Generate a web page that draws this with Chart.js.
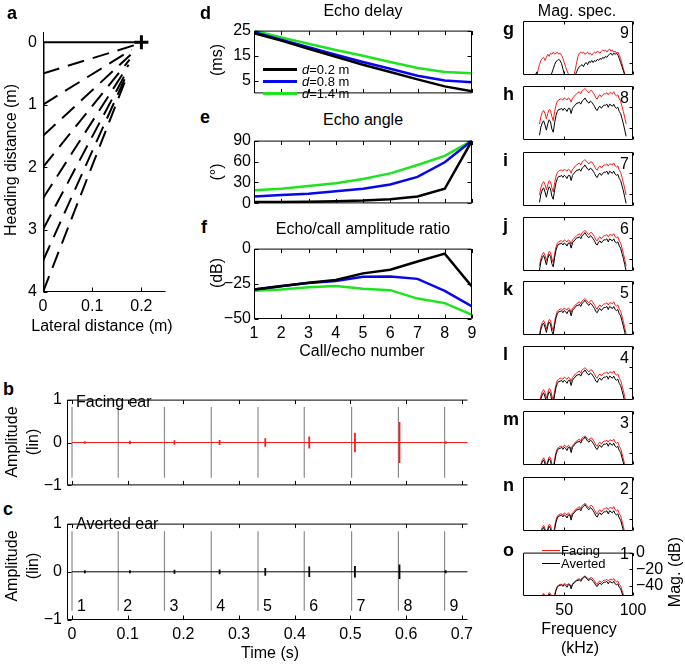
<!DOCTYPE html>
<html>
<head>
<meta charset="utf-8">
<script src="https://cdn.jsdelivr.net/npm/chart.js@4.4.1/dist/chart.umd.min.js"></script>
<style>
  body { margin: 0; width: 685px; height: 664px; position: relative; overflow: hidden; background: #fff;
         font-family: "Liberation Sans", Arial, sans-serif; color: #000; }
  canvas { position: absolute; }
  .txt { position: absolute; white-space: nowrap; line-height: 1; }
  .bar { position: absolute; }
</style>
</head>
<body>
<script>
// ---- panel a: geometry of echo paths (m)
const WALL_Y = [0.5, 1, 1.5, 2, 2.5, 3, 3.5, 4];
const PATH_END_X = [0.185, 0.18, 0.178, 0.176, 0.174, 0.172, 0.17, 0.168];
const PATH_END_Y = [0.05, 0.12, 0.2, 0.28, 0.36, 0.44, 0.52, 0.6];
const BAT_X = 0.2;
const A_X_TICKS = [0, 0.1, 0.2];
const A_Y_TICKS = [0, 1, 2, 3, 4];

// ---- panels d-f: per call/echo number
const CALL_NO = [1, 2, 3, 4, 5, 6, 7, 8, 9];
const SERIES_LABELS = ['0.2 m', '0.8 m', '1.4 m'];
const DELAY_02 = [24, 21, 17.8, 14.6, 11.4, 8.5, 5.6, 2.8, 0.8];
const DELAY_08 = [24.4, 21.4, 18.4, 15.4, 12.5, 9.8, 7, 5.1, 4.4];
const DELAY_14 = [25, 22.3, 19.8, 17.3, 15, 12.5, 10.1, 8.5, 8];
const ANGLE_02 = [2, 2, 2.5, 3, 4, 6, 10, 21, 90];
const ANGLE_08 = [10, 12, 14, 17.5, 21, 27, 38, 59, 90];
const ANGLE_14 = [19, 21, 25, 29, 35, 43, 55, 68, 90];
const RATIO_02 = [-29, -26.7, -24.2, -22.3, -17.6, -15, -9.2, -3.6, -27];
const RATIO_08 = [-29, -26.5, -24.5, -23, -20, -19.8, -21.5, -30, -41];
const RATIO_14 = [-30, -29, -27.5, -26.5, -28.5, -29.5, -35.5, -38.7, -47];
const DELAY_TICKS = [5, 15, 25];
const ANGLE_TICKS = [0, 30, 60, 90];
const RATIO_TICKS = [-50, -25, 0];

// ---- panels b-c: time series (s, linear amplitude)
const CALL_T = [0, 0.083, 0.166, 0.25, 0.334, 0.417, 0.502, 0.586, 0.669];
const ECHO_T = [0.023, 0.104, 0.184, 0.265, 0.347, 0.426, 0.508, 0.588, 0.671];
const CALL_AMP_FACING = [0.83, -0.82];
const CALL_AMP_AVERTED = [0.84, -0.81];
const ECHO_AMP_FACING = [0.03, 0.04, 0.05, 0.06, 0.1, 0.14, 0.23, 0.48, 0.03];
const ECHO_AMP_AVERTED = [0.03, 0.03, 0.04, 0.05, 0.08, 0.11, 0.12, 0.15, 0.03];
const REC_T = [0, 0.71];
const TIME_TICKS = [0, 0.1, 0.2, 0.3, 0.4, 0.5, 0.6, 0.7];
const AMP_TICKS = [-1, 0, 1];

// ---- panels g-o: magnitude spectra (kHz, dB)
const SPEC_FREQ = [32, 33, 34, 35, 36, 37, 38, 39, 40, 41, 42, 43, 44, 45, 46, 47, 48, 49, 50, 51,
  52, 53, 54, 55, 56, 57, 58, 59, 60, 61, 62, 63, 64, 65, 66, 67, 68, 69, 70, 71,
  72, 73, 74, 75, 76, 77, 78, 79, 80, 81, 82, 83, 84, 85, 86, 87, 88, 89, 90, 91, 92, 93, 94, 95];
// spectrum shapes relative to each panel's peak level
const FACING_SHAPE = [-34, -27, -23, -21, -24, -29, -24, -20, -21, -27,
  -31, -22, -16, -12, -11, -10, -10, -11, -9, -10,
  -11, -9, -10, -13, -9, -8, -6, -5, -4, -3,
  -5, -2, -1, 0, -1, -3, -4, -2, -2, -4,
  -6, -9, -10, -7, -6, -8, -6, -5, -5, -4,
  -6, -4, -4, -5, -3, -6, -7, -6, -10, -12,
  -17, -22, -28, -34];
const AVERTED_SHAPE = [-36, -28, -24, -22, -26, -31, -25, -21, -23, -30,
  -33, -24, -17, -13, -11, -11, -10, -12, -10, -11,
  -13, -10, -10, -15, -10, -8, -7, -5, -5, -4,
  -6, -3, -2, 0, -2, -4, -5, -3, -4, -6,
  -8, -11, -12, -9, -8, -10, -8, -7, -7, -6,
  -9, -6, -7, -8, -6, -9, -10, -9, -13, -15,
  -20, -25, -31, -37];
// peak level (dB) for calls 1..8
const FACING_PEAK = [-28, -25.5, -24, -21, -17, -13, -7.5, -2.5];
const AVERTED_PEAK = [-28.5, -26.5, -25, -23, -18.5, -15, -12.5, -11.5];
// call 9 has its own shape
const G_FREQ = [29, 30, 31, 32, 33, 34, 35, 36, 37, 38, 39, 40, 41, 42, 43, 44, 45, 46, 47, 48,
  49, 50, 51, 52, 53, 54, 55, 56, 57, 58, 59, 60, 61, 62, 63, 64, 65, 66, 67, 68,
  69, 70, 71, 72, 73, 74, 75, 76, 77, 78, 79, 80, 81, 82, 83, 84, 85, 86, 87, 88,
  89, 90, 91, 92, 93, 94, 95];
const G_FACING = [-55, -52, -47, -42, -38, -36, -35, -38, -35, -32,
  -34, -31, -32, -30, -32, -31, -30, -32, -31, -33,
  -36, -40, -44, -48, -51, -53, -55, -54, -52, -47,
  -40, -34, -31, -30, -31, -30, -32, -31, -30, -32,
  -31, -33, -31, -30, -31, -29, -30, -31, -29, -28,
  -29, -28, -30, -28, -27, -29, -28, -30, -29, -31,
  -30, -33, -36, -41, -46, -51, -55];
const G_AVERTED = [-52, -49, -53, -55, -55, -55, -55, -55, -55, -55,
  -55, -53, -50, -46, -42, -39, -38, -37, -38, -41,
  -46, -51, -55, -55, -55, -55, -55, -55, -54, -52,
  -49, -46, -44, -43, -42, -44, -41, -40, -42, -39,
  -40, -38, -40, -38, -39, -37, -38, -36, -37, -35,
  -36, -34, -35, -33, -32, -31, -33, -31, -32, -31,
  -33, -36, -40, -44, -48, -52, -55];
const SPEC_X_TICKS = [50, 100];
const SPEC_Y_TICKS = [0, -20, -40];

const BLUE = '#0707ee';
const GREEN = '#1ee41e';
const RED = '#ff1a1a';
const GREY = '#8c8c8c';

Chart.defaults.font.family = '"Liberation Sans", Arial, sans-serif';
Chart.defaults.font.size = 16;
Chart.defaults.color = '#000';
Chart.defaults.animation = false;

// box and inward ticks, drawn from the chart's own scales
Chart.register({
  id: 'frame',
  afterDatasetsDraw(chart, args, o) {
    if (!o.sides) return;
    const { ctx, chartArea: a } = chart;
    const xs = chart.scales.x, ys = chart.scales.y;
    const len = o.len || 4;
    ctx.save();
    ctx.strokeStyle = '#000';
    ctx.lineWidth = 1;
    ctx.beginPath();
    const L = a.left + 0.5, R = a.right - 0.5, T = a.top + 0.5, B = a.bottom - 0.5;
    if (o.sides.includes('t')) { ctx.moveTo(L, T); ctx.lineTo(R, T); }
    if (o.sides.includes('b')) { ctx.moveTo(L, B); ctx.lineTo(R, B); }
    if (o.sides.includes('l')) { ctx.moveTo(L, T); ctx.lineTo(L, B); }
    if (o.sides.includes('r')) { ctx.moveTo(R, T); ctx.lineTo(R, B); }
    xs.ticks.forEach(t => {
      const p = Math.round(xs.getPixelForValue(t.value)) + 0.5;
      if ((o.xt || '').includes('b')) { ctx.moveTo(p, B); ctx.lineTo(p, B - len); }
      if ((o.xt || '').includes('t')) { ctx.moveTo(p, T); ctx.lineTo(p, T + len); }
    });
    ys.ticks.forEach(t => {
      const p = Math.round(ys.getPixelForValue(t.value)) + 0.5;
      if ((o.yt || '').includes('l')) { ctx.moveTo(L, p); ctx.lineTo(L + len, p); }
      if ((o.yt || '').includes('r')) { ctx.moveTo(R, p); ctx.lineTo(R - len, p); }
    });
    ctx.stroke();
    ctx.restore();
  }
});

const fmt = v => String(v).replace('-', '\u2212');

function axis(min, max, ticks, o) {
  return {
    type: 'linear', min, max, reverse: !!o.reverse, position: o.position,
    grid: { display: false, drawTicks: false }, border: { display: false },
    ticks: { display: !!o.labels, padding: o.pad ?? 4, autoSkip: false, maxRotation: 0,
             font: { size: o.size || 16 }, callback: v => fmt(v) },
    afterBuildTicks: s => { s.ticks = ticks.map(v => ({ value: v })); }
  };
}

// box = plot area on the page, m = room around it for tick labels
function panel(box, m, cfg) {
  const cv = document.createElement('canvas');
  cv.width = box.r - box.l + m.l + m.r;
  cv.height = box.b - box.t + m.t + m.b;
  cv.style.left = (box.l - m.l) + 'px';
  cv.style.top = (box.t - m.t) + 'px';
  document.body.appendChild(cv);
  const right = cfg.y.position === 'right';
  cfg.y.afterFit = s => { s.width = right ? m.r : m.l; };
  cfg.x.afterFit = s => { s.height = m.b; };
  return new Chart(cv, {
    type: 'scatter',
    data: { datasets: cfg.datasets },
    options: {
      responsive: false,
      layout: { padding: { left: right ? m.l : 0, right: right ? 0 : m.r, top: m.t, bottom: 0 } },
      scales: { x: cfg.x, y: cfg.y },
      plugins: { legend: { display: false }, tooltip: { enabled: false }, frame: cfg.frame }
    },
    plugins: cfg.plugins || []
  });
}

const pts = (xs, ys) => xs.map((x, i) => ({ x, y: ys[i] }));
const line = (data, color, width, extra) =>
  Object.assign({ data, showLine: true, borderColor: color, backgroundColor: color,
                  borderWidth: width, pointRadius: 0 }, extra || {});

function txt(s, x, y, o = {}) {
  const d = document.createElement('div');
  d.className = 'txt';
  d.innerHTML = s;
  d.style.left = x + 'px';
  d.style.top = y + 'px';
  d.style.fontSize = (o.size || 16) + 'px';
  if (o.bold) d.style.fontWeight = 'bold';
  const ax = o.align === 'l' ? '0' : o.align === 'r' ? '-100%' : '-50%';
  d.style.transform = 'translate(' + ax + ', -50%)' + (o.rot ? ' rotate(-90deg)' : '');
  document.body.appendChild(d);
}
function bar(x, y, w, h, color) {
  const d = document.createElement('div');
  d.className = 'bar';
  Object.assign(d.style, { left: x + 'px', top: y + 'px', width: w + 'px', height: h + 'px', background: color });
  document.body.appendChild(d);
}

// ---------- panel a
const aSets = [
  line([{ x: 0, y: 0 }, { x: 0, y: 4 }], '#000', 3),
  line([{ x: 0, y: 0 }, { x: BAT_X, y: 0 }], '#000', 2),
];
WALL_Y.forEach((w, i) => {
  aSets.push(line([{ x: 0, y: w }, { x: PATH_END_X[i], y: PATH_END_Y[i] }], '#000', 2, { borderDash: [17, 9] }));
});
aSets.push({ data: [{ x: BAT_X, y: 0 }], showLine: false, pointStyle: 'cross', pointRadius: 7,
             borderWidth: 3, borderColor: '#000' });
panel({ l: 43, r: 168, t: 22, b: 292 }, { l: 43, r: 8, t: 6, b: 28 }, {
  datasets: aSets,
  x: axis(0, 0.25, A_X_TICKS, { labels: true, pad: 5 }),
  y: axis(-0.17, 4, A_Y_TICKS, { labels: true, reverse: true, pad: 6 }),
  frame: { sides: 'lb', xt: 'b', yt: 'l', len: 4 }
});

// ---------- panels d, e, f
const dfBox = { l: 254, r: 472 };
const dfSets = (a, b, c) => [
  line(pts(CALL_NO, a), '#000', 2.5),
  line(pts(CALL_NO, b), BLUE, 2.5),
  line(pts(CALL_NO, c), GREEN, 2.5),
];
panel({ ...dfBox, t: 22, b: 102 }, { l: 45, r: 6, t: 4, b: 4 }, {
  datasets: dfSets(DELAY_02, DELAY_08, DELAY_14),
  x: axis(1, 9, CALL_NO, { labels: false }),
  y: axis(0, 25, DELAY_TICKS, { labels: true, pad: 3 }),
  frame: { sides: 'tlbr', xt: 'tb', yt: 'lr' }
});
panel({ ...dfBox, t: 132, b: 212 }, { l: 45, r: 6, t: 4, b: 4 }, {
  datasets: dfSets(ANGLE_02, ANGLE_08, ANGLE_14),
  x: axis(1, 9, CALL_NO, { labels: false }),
  y: axis(0, 90, ANGLE_TICKS, { labels: true, pad: 3 }),
  frame: { sides: 'tlbr', xt: 'tb', yt: 'lr' }
});
panel({ ...dfBox, t: 240, b: 319 }, { l: 45, r: 10, t: 4, b: 26 }, {
  datasets: dfSets(RATIO_02, RATIO_08, RATIO_14),
  x: axis(1, 9, CALL_NO, { labels: true, pad: 5 }),
  y: axis(-50, 0, RATIO_TICKS, { labels: true, pad: 3 }),
  frame: { sides: 'tlbr', xt: 'tb', yt: 'lr' }
});

// ---------- panels b, c
const callNumbers = {
  id: 'callNumbers',
  afterDatasetsDraw(chart) {
    const { ctx } = chart;
    ctx.save();
    ctx.font = '16px "Liberation Sans", Arial, sans-serif';
    ctx.fillStyle = '#000';
    ctx.textBaseline = 'middle';
    CALL_T.forEach((t, i) => {
      ctx.fillText(String(CALL_NO[i]), chart.scales.x.getPixelForValue(t) + 5, chart.scales.y.getPixelForValue(-0.73));
    });
    ctx.restore();
  }
};
function callSpikes(amp) {
  const out = [];
  CALL_T.forEach(t => out.push({ x: t, y: amp[0] }, { x: t, y: amp[1] }, { x: t, y: null }));
  return out;
}
function echoSpikes(amp) {
  const out = [];
  ECHO_T.forEach((t, i) => out.push({ x: t, y: amp[i] }, { x: t, y: -amp[i] }, { x: t, y: null }));
  return out;
}
const tBox = { l: 67, r: 468 };
panel({ ...tBox, t: 389, b: 496 }, { l: 40, r: 10, t: 4, b: 4 }, {
  datasets: [
    line(echoSpikes(ECHO_AMP_FACING), RED, 1.8),
    line(pts(REC_T, [0, 0]), RED, 1),
    line(callSpikes(CALL_AMP_FACING), GREY, 1.2),
  ],
  x: axis(-0.009, 0.711, TIME_TICKS, { labels: false }),
  y: axis(-1, 1, AMP_TICKS, { labels: true, pad: 5 }),
  frame: { sides: 'tlb', xt: 'tb', yt: 'l' }
});
panel({ ...tBox, t: 513, b: 620 }, { l: 40, r: 14, t: 4, b: 26 }, {
  datasets: [
    line(echoSpikes(ECHO_AMP_AVERTED), '#000', 1.8),
    line(pts(REC_T, [0, 0]), '#000', 1),
    line(callSpikes(CALL_AMP_AVERTED), GREY, 1.2),
  ],
  x: axis(-0.009, 0.711, TIME_TICKS, { labels: true, pad: 5 }),
  y: axis(-1, 1, AMP_TICKS, { labels: true, pad: 5 }),
  frame: { sides: 'tlb', xt: 'tb', yt: 'l' },
  plugins: [callNumbers]
});

// ---------- panels g-o (call 9 at top, call 1 at bottom)
const SPEC_TOPS = [21, 86, 152, 217, 281, 346, 411, 477, 542];
const SPEC_LETTERS = ['g', 'h', 'i', 'j', 'k', 'l', 'm', 'n', 'o'];
SPEC_TOPS.forEach((top, k) => {
  const n = 9 - k;
  let facing, averted;
  if (n === 9) {
    facing = pts(G_FREQ, G_FACING);
    averted = pts(G_FREQ, G_AVERTED);
  } else {
    facing = SPEC_FREQ.map((f, j) => ({ x: f, y: FACING_SHAPE[j] + FACING_PEAK[n - 1] }));
    averted = SPEC_FREQ.map((f, j) => ({ x: f, y: AVERTED_SHAPE[j] + AVERTED_PEAK[n - 1] }));
  }
  const last = n === 1;
  panel({ l: 523, r: 633, t: top, b: top + 54 }, { l: 14, r: last ? 44 : 4, t: 2, b: last ? 26 : 2 }, {
    datasets: [line(averted, '#000', 1), line(facing, RED, 1)],
    x: axis(20, 100, SPEC_X_TICKS, { labels: last, pad: 5 }),
    y: axis(-52, 0, SPEC_Y_TICKS, { labels: last, position: 'right', pad: 3 }),
    frame: { sides: 'tlbr', xt: 'tb', yt: 'r', len: 3 }
  });
  txt(String(n), 629, top + 12, { align: 'r' });
  txt(SPEC_LETTERS[k], 503, top + 8, { align: 'l', bold: true, size: 18 });
});

// ---------- text
txt('a', 7, 13, { align: 'l', bold: true, size: 18 });
txt('d', 200, 13, { align: 'l', bold: true, size: 18 });
txt('e', 200, 117, { align: 'l', bold: true, size: 18 });
txt('f', 201, 227, { align: 'l', bold: true, size: 18 });
txt('b', 3, 389, { align: 'l', bold: true, size: 18 });
txt('c', 3, 509, { align: 'l', bold: true, size: 18 });

txt('Heading distance (m)', 11, 160, { rot: true });
txt('Lateral distance (m)', 102, 326);

txt('Echo delay', 363, 11);
txt('Echo angle', 363, 120);
txt('Echo/call amplitude ratio', 363, 229);
txt('Call/echo number', 362, 351);
txt('(ms)', 217, 60, { rot: true });
txt('(\u00b0)', 217, 172, { rot: true });
txt('(dB)', 217, 273, { rot: true });

[['#000', 69], [BLUE, 81], [GREEN, 93]].forEach(([c, y], i) => {
  bar(263, y - 1.5, 34, 3, c);
  txt('<i>d</i>=' + SERIES_LABELS[i], 302, y, { align: 'l', size: 13 });
});

txt('Amplitude', 12, 442, { rot: true });
txt('(lin)', 33, 442, { rot: true });
txt('Amplitude', 12, 566, { rot: true });
txt('(lin)', 33, 566, { rot: true });
txt('Facing ear', 76, 402, { align: 'l' });
txt('Averted ear', 76, 524, { align: 'l' });
txt('Time (s)', 270, 653);

txt('Mag. spec.', 577, 11);
txt('Frequency', 579, 629);
txt('(kHz)', 580, 648);
txt('Mag. (dB)', 675, 572, { rot: true });
bar(542, 549.5, 18, 1, RED);
bar(542, 562.5, 18, 1, '#000');
txt('Facing', 561, 550, { align: 'l', size: 13 });
txt('Averted', 561, 563, { align: 'l', size: 13 });
</script>
</body>
</html>
